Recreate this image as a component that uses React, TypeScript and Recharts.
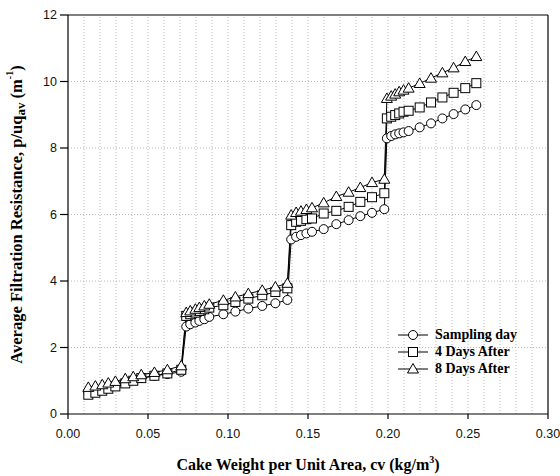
import React from "react";
import { LineChart, Line, XAxis, YAxis, ReferenceLine } from "recharts";

// four steps of the cake filtration test, same cv points for every sample
const cakeWeight = [
  0.0127, 0.0171, 0.0214, 0.0252, 0.0296, 0.0358, 0.0408, 0.0458, 0.054, 0.0621, 0.0708,
  0.0739, 0.0764, 0.0796, 0.0821, 0.0852, 0.0883, 0.0971, 0.1046, 0.1127, 0.1214, 0.1296, 0.1371,
  0.1395, 0.1426, 0.1456, 0.149, 0.1525, 0.1598, 0.1677, 0.1754, 0.1827, 0.19, 0.1977,
  0.1993, 0.202, 0.2045, 0.207, 0.2097, 0.2129, 0.2198, 0.2269, 0.234, 0.241, 0.2483, 0.2552,
];
const samplingDay = [
  0.65, 0.7, 0.75, 0.8, 0.86, 0.95, 1.02, 1.08, 1.15, 1.2, 1.27,
  2.63, 2.7, 2.75, 2.8, 2.85, 2.92, 3.0, 3.08, 3.17, 3.25, 3.33, 3.43,
  5.25, 5.33, 5.38, 5.43, 5.48, 5.56, 5.71, 5.83, 5.95, 6.05, 6.16,
  8.29, 8.36, 8.41, 8.44, 8.47, 8.51, 8.62, 8.74, 8.89, 9.02, 9.16, 9.29,
];
const fourDaysAfter = [
  0.58, 0.64, 0.7, 0.76, 0.83, 0.92, 1.0, 1.08, 1.15, 1.22, 1.33,
  2.95, 3.0, 3.05, 3.1, 3.15, 3.2, 3.27, 3.37, 3.47, 3.57, 3.67, 3.78,
  5.68, 5.78, 5.81, 5.86, 5.88, 6.03, 6.11, 6.23, 6.38, 6.52, 6.64,
  8.89, 8.94, 8.99, 9.04, 9.09, 9.12, 9.22, 9.37, 9.52, 9.66, 9.8, 9.95,
];
const eightDaysAfter = [
  0.8, 0.84, 0.88, 0.93, 0.98, 1.06, 1.12, 1.18, 1.25, 1.33, 1.45,
  3.05, 3.1, 3.15, 3.2, 3.25, 3.3, 3.42, 3.52, 3.62, 3.72, 3.82, 3.93,
  5.98, 6.06, 6.1, 6.15, 6.2, 6.35, 6.54, 6.67, 6.81, 6.96, 7.06,
  9.49, 9.56, 9.62, 9.69, 9.74, 9.8, 9.94, 10.1, 10.26, 10.41, 10.6, 10.75,
];

const xTicks = [0, 0.05, 0.1, 0.15, 0.2, 0.25, 0.3];
const yTicks = [0, 2, 4, 6, 8, 10, 12];
const xGrid = Array.from({ length: 29 }, (_, i) => Math.round((i + 1) * 100) / 10000);
const yGrid = [2, 4, 6, 8, 10];

const data = cakeWeight.map((x, i) => ({
  x,
  sampling: samplingDay[i],
  four: fourDaysAfter[i],
  eight: eightDaysAfter[i],
}));

const serif = "'Liberation Serif', 'Times New Roman', serif";
const sans = "'Liberation Sans', Arial, sans-serif";
const gridColor = "#b8b8b8";

// eslint-disable-next-line @typescript-eslint/no-explicit-any
const squareDot = (p: any) => (
  <rect key={`sq-${p.index}`} x={p.cx - 4.5} y={p.cy - 4.5} width={9} height={9} fill="#fff" stroke="#000" strokeWidth={1} />
);

// eslint-disable-next-line @typescript-eslint/no-explicit-any
const triangleDot = (p: any) => (
  <polygon
    key={`tr-${p.index}`}
    points={`${p.cx},${p.cy - 5.5} ${p.cx + 5.5},${p.cy + 4} ${p.cx - 5.5},${p.cy + 4}`}
    fill="#fff"
    stroke="#000"
    strokeWidth={1}
  />
);

// eslint-disable-next-line @typescript-eslint/no-explicit-any
const XTitle = ({ viewBox }: any) => (
  <text x={viewBox.x + viewBox.width / 2} y={viewBox.y + 56} textAnchor="middle" fontFamily={serif} fontWeight="bold" fontSize={16} fill="#000">
    Cake Weight per Unit Area, cv (kg/m
    <tspan fontSize={10} dy={-7}>3</tspan>
    <tspan dy={7}>)</tspan>
  </text>
);

// eslint-disable-next-line @typescript-eslint/no-explicit-any
const YTitle = ({ viewBox }: any) => {
  const cx = 16;
  const cy = viewBox.y + viewBox.height / 2;
  return (
    <text
      x={cx}
      y={cy}
      transform={`rotate(-90, ${cx}, ${cy})`}
      textAnchor="middle"
      dominantBaseline="central"
      fontFamily={serif}
      fontWeight="bold"
      fontSize={16.5}
      fill="#000"
    >
      Average Filtration Resistance, p/uq
      <tspan fontSize={13} dy={4}>av</tspan>
      <tspan dy={-4}> (m</tspan>
      <tspan fontSize={10} dy={-7}>-1</tspan>
      <tspan dy={7}>)</tspan>
    </text>
  );
};

const legendRows = [
  { name: "Sampling day", shape: "circle" },
  { name: "4 Days After", shape: "square" },
  { name: "8 Days After", shape: "triangle" },
];

function LegendBox() {
  return (
    <div style={{ position: "absolute", left: 397, top: 326, fontFamily: serif, fontWeight: "bold", fontSize: 14 }}>
      {legendRows.map((r) => (
        <div key={r.name} style={{ display: "flex", alignItems: "center", height: 17 }}>
          <svg width={32} height={14}>
            <line x1={1} y1={7} x2={31} y2={7} stroke="#000" strokeWidth={1} />
            {r.shape === "circle" && <circle cx={16} cy={7} r={4.5} fill="#fff" stroke="#000" />}
            {r.shape === "square" && <rect x={11.5} y={2.5} width={9} height={9} fill="#fff" stroke="#000" />}
            {r.shape === "triangle" && <polygon points="16,1.5 21.5,11 10.5,11" fill="#fff" stroke="#000" />}
          </svg>
          <span style={{ marginLeft: 6, whiteSpace: "nowrap" }}>{r.name}</span>
        </div>
      ))}
    </div>
  );
}

export default function App() {
  return (
    <div style={{ position: "absolute", left: 0, top: 0, width: 560, height: 476, background: "#fff" }}>
      <LineChart width={560} height={476} data={data} margin={{ top: 15, right: 12, left: 0, bottom: 0 }}>
        {xGrid.map((v) => (
          <ReferenceLine key={`gx-${v}`} x={v} stroke={gridColor} strokeDasharray="1 2" />
        ))}
        {yGrid.map((v) => (
          <ReferenceLine key={`gy-${v}`} y={v} stroke={gridColor} strokeDasharray="1 2" />
        ))}
        <ReferenceLine y={12} stroke="#000" strokeWidth={1.2} />
        <ReferenceLine x={0.3} stroke="#000" strokeWidth={1.2} />
        <XAxis
          type="number"
          dataKey="x"
          domain={[0, 0.3]}
          ticks={xTicks}
          tickFormatter={(v: number) => v.toFixed(2)}
          height={62}
          tickSize={5}
          tickMargin={10}
          stroke="#000"
          strokeWidth={1.2}
          tick={{ fill: "#111", fontSize: 12.5, fontFamily: sans }}
          label={<XTitle />}
        />
        <YAxis
          type="number"
          domain={[0, 12]}
          ticks={yTicks}
          width={68}
          tickSize={8}
          tickMargin={3}
          stroke="#000"
          strokeWidth={1.2}
          tick={{ fill: "#111", fontSize: 12.5, fontFamily: sans }}
          label={<YTitle />}
        />
        <Line dataKey="sampling" stroke="#000" strokeWidth={1} dot={{ r: 4.5, fill: "#fff", stroke: "#000", strokeWidth: 1 }} isAnimationActive={false} />
        <Line dataKey="four" stroke="#000" strokeWidth={1} dot={squareDot} isAnimationActive={false} />
        <Line dataKey="eight" stroke="#000" strokeWidth={1} dot={triangleDot} isAnimationActive={false} />
      </LineChart>
      <LegendBox />
    </div>
  );
}
